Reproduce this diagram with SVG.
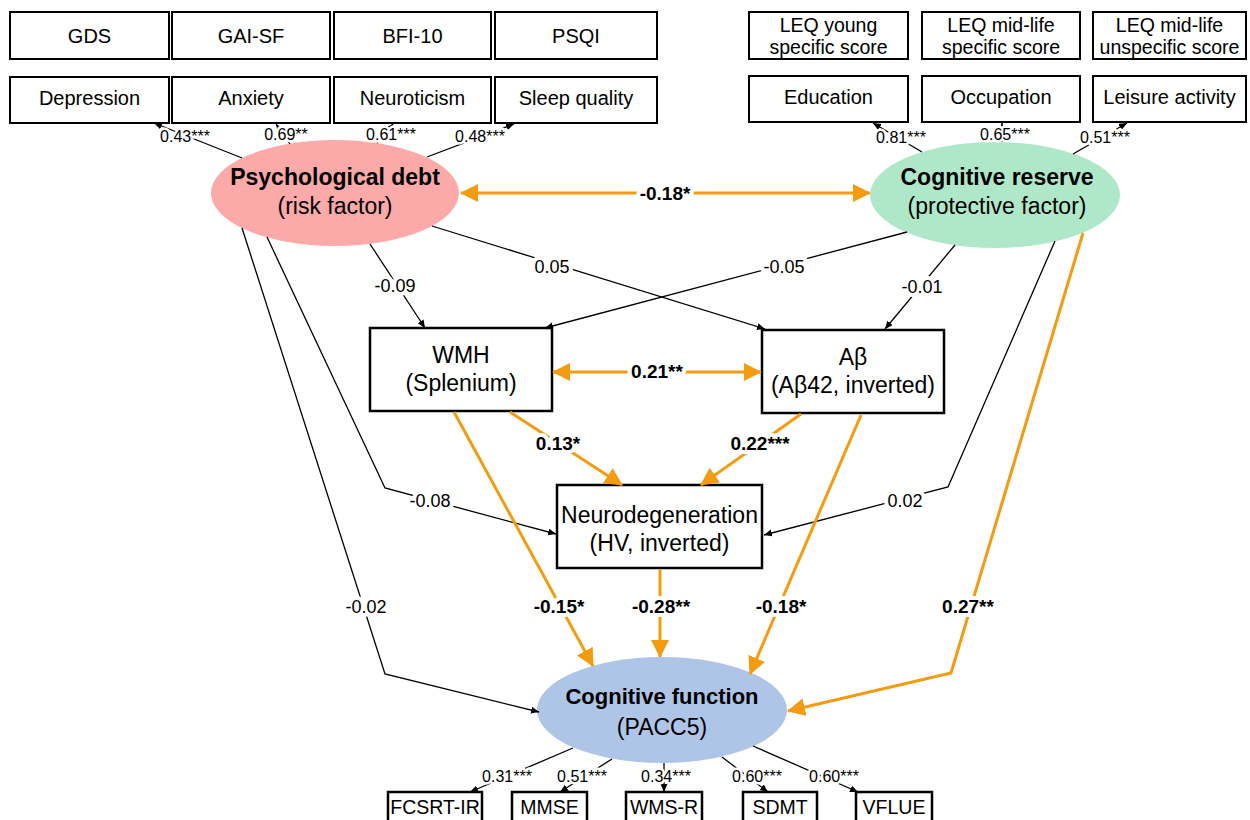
<svg xmlns="http://www.w3.org/2000/svg" width="1250" height="820" viewBox="0 0 1250 820">
<style>
.t{font-family:"Liberation Sans",Arial,sans-serif;text-anchor:middle;fill:#000}
.box{fill:#fff;stroke:#000;stroke-width:2}
.box2{fill:#fff;stroke:#000;stroke-width:2.5}
.bt{font-size:20px}
.bt2{font-size:19.5px}
.mt{font-size:23px}
.et{font-size:23px}
.eb{font-size:23px;font-weight:bold}
.lt{font-size:16px;stroke:#fff;stroke-width:5;paint-order:stroke;stroke-linejoin:round}
.pl{font-size:18px;stroke:#fff;stroke-width:8;paint-order:stroke;stroke-linejoin:round}
.ol{font-size:19px;font-weight:bold;stroke:#fff;stroke-width:8;paint-order:stroke;stroke-linejoin:round}
.blk{fill:none;stroke:#000;stroke-width:1.3;marker-end:url(#ab)}
.org{fill:none;stroke:#F39C12;stroke-width:3;marker-end:url(#ao)}
.bi{marker-start:url(#ao)}
</style>
<defs>
<marker id="ab" markerUnits="userSpaceOnUse" markerWidth="10" markerHeight="8" refX="8" refY="3.5" orient="auto"><path d="M0,0 L8,3.5 L0,7 z" fill="#000"/></marker>
<marker id="ao" markerUnits="userSpaceOnUse" markerWidth="20" markerHeight="20" refX="17" refY="9" orient="auto-start-reverse"><path d="M0,0 L18,9 L0,18 z" fill="#F39C12"/></marker>
</defs>
<rect width="1250" height="820" fill="#fff"/>

<g id="nodes-top-left">
<g id="gds"><rect class="box" x="10" y="12" width="159" height="47"/><text class="t bt" x="89.5" y="43">GDS</text></g>
<g id="gaisf"><rect class="box" x="172" y="12" width="158" height="47"/><text class="t bt" x="251" y="43">GAI-SF</text></g>
<g id="bfi10"><rect class="box" x="334" y="12" width="157" height="47"/><text class="t bt" x="412.5" y="43">BFI-10</text></g>
<g id="psqi"><rect class="box" x="495" y="12" width="162" height="47"/><text class="t bt" x="576" y="43">PSQI</text></g>
<g id="depression"><rect class="box" x="10" y="77" width="159" height="46"/><text class="t bt" x="89.5" y="105">Depression</text></g>
<g id="anxiety"><rect class="box" x="172" y="77" width="158" height="46"/><text class="t bt" x="251" y="105">Anxiety</text></g>
<g id="neuroticism"><rect class="box" x="334" y="77" width="157" height="46"/><text class="t bt" x="412.5" y="105">Neuroticism</text></g>
<g id="sleep"><rect class="box" x="495" y="77" width="162" height="46"/><text class="t bt" x="576" y="105">Sleep quality</text></g>
</g>

<g id="nodes-top-right">
<g id="leq-young"><rect class="box" x="749" y="12" width="159" height="47"/><text class="t bt2" x="828.5" y="32">LEQ young</text><text class="t bt2" x="828.5" y="54">specific score</text></g>
<g id="leq-mid"><rect class="box" x="922" y="12" width="158" height="47"/><text class="t bt2" x="1001" y="32">LEQ mid-life</text><text class="t bt2" x="1001" y="54">specific score</text></g>
<g id="leq-unspec"><rect class="box" x="1093" y="12" width="153" height="47"/><text class="t bt2" x="1169.5" y="32">LEQ mid-life</text><text class="t bt2" x="1169.5" y="54">unspecific score</text></g>
<g id="education"><rect class="box" x="749" y="76" width="159" height="46"/><text class="t bt" x="828.5" y="104">Education</text></g>
<g id="occupation"><rect class="box" x="922" y="76" width="158" height="46"/><text class="t bt" x="1001" y="104">Occupation</text></g>
<g id="leisure"><rect class="box" x="1093" y="76" width="153" height="46"/><text class="t bt" x="1169.5" y="104">Leisure activity</text></g>
</g>

<g id="psych-debt"><ellipse cx="335" cy="193" rx="124" ry="53" fill="#FBA9A9"/><text class="t eb" x="335" y="185">Psychological debt</text><text class="t et" x="335" y="214">(risk factor)</text></g>
<g id="cog-reserve"><ellipse cx="995" cy="195" rx="125" ry="53" fill="#AFE8C8"/><text class="t eb" x="997" y="185">Cognitive reserve</text><text class="t et" x="997" y="214">(protective factor)</text></g>
<g id="wmh"><rect class="box2" x="370" y="328" width="182" height="83"/><text class="t mt" x="461" y="363">WMH</text><text class="t mt" x="461" y="391">(Splenium)</text></g>
<g id="abeta"><rect class="box2" x="762" y="330" width="182" height="83"/><text class="t mt" x="853" y="365">Aβ</text><text class="t mt" x="853" y="393">(Aβ42, inverted)</text></g>
<g id="neurodeg"><rect class="box2" x="557" y="485" width="205" height="83"/><text class="t mt" x="659.5" y="523">Neurodegeneration</text><text class="t mt" x="659.5" y="551">(HV, inverted)</text></g>
<g id="cog-function"><ellipse cx="662" cy="710" rx="125" ry="53" fill="#AFC5E8"/><text class="t eb" x="662" y="704" style="font-size:22px">Cognitive function</text><text class="t et" x="662" y="735">(PACC5)</text></g>

<g id="nodes-bottom">
<g id="fcsrt"><rect class="box2" x="388" y="792" width="94" height="32"/><text class="t bt2" x="435" y="814">FCSRT-IR</text></g>
<g id="mmse"><rect class="box2" x="512" y="792" width="75" height="32"/><text class="t bt2" x="549.5" y="814">MMSE</text></g>
<g id="wmsr"><rect class="box2" x="626" y="792" width="76" height="32"/><text class="t bt2" x="664" y="814">WMS-R</text></g>
<g id="sdmt"><rect class="box2" x="743" y="792" width="74" height="32"/><text class="t bt2" x="780" y="814">SDMT</text></g>
<g id="vflue"><rect class="box2" x="856" y="792" width="76" height="32"/><text class="t bt2" x="894" y="814">VFLUE</text></g>
</g>

<g id="connectors">
<path class="blk" d="M242,158 L154,123"/>
<path class="blk" d="M290,144 L276,124"/>
<path class="blk" d="M377,143 L393,124"/>
<path class="blk" d="M427,157 L514,124"/>
<path class="blk" d="M922,152 L873,123"/>
<path class="blk" d="M1002,142 L1002,123"/>
<path class="blk" d="M1073,154 L1127,123"/>
<path class="blk" d="M573,748 L470,792"/>
<path class="blk" d="M612,759 L560,792"/>
<path class="blk" d="M664,763 L664,792"/>
<path class="blk" d="M722,757 L768,792"/>
<path class="blk" d="M753,746 L858,792"/>

<path class="blk" d="M370,244 L425,328"/>
<path class="blk" d="M432,226 L765,329"/>
<path class="blk" d="M907,232 L545,328"/>
<path class="blk" d="M955,245 L885,329"/>
<path class="blk" d="M267,237 L385,488 L556,534"/>
<path class="blk" d="M242,228 L385,674 L539,712"/>
<path class="blk" d="M1055,241 L948,487 L764,535"/>

<path class="org bi" d="M461,193 L870,193"/>
<path class="org bi" d="M553,372 L761,372"/>
<path class="org" d="M510,412 L622,485"/>
<path class="org" d="M801,414 L701,485"/>
<path class="org" d="M454,412 L593,666"/>
<path class="org" d="M660,569 L660,657"/>
<path class="org" d="M861,415 L750,674"/>
<path class="org" d="M1083,233 L951,673 L788,711"/>
</g>

<g id="labels">
<text class="t lt" x="185" y="142">0.43***</text>
<text class="t lt" x="286" y="140">0.69**</text>
<text class="t lt" x="391" y="140">0.61***</text>
<text class="t lt" x="480" y="142">0.48***</text>
<text class="t lt" x="901" y="143">0.81***</text>
<text class="t lt" x="1005" y="140">0.65***</text>
<text class="t lt" x="1105" y="143">0.51***</text>
<text class="t lt" x="507" y="782">0.31***</text>
<text class="t lt" x="582" y="782">0.51***</text>
<text class="t lt" x="666" y="782">0.34***</text>
<text class="t lt" x="757" y="782">0.60***</text>
<text class="t lt" x="834" y="782">0.60***</text>

<text class="t pl" x="395" y="292">-0.09</text>
<text class="t pl" x="552" y="273">0.05</text>
<text class="t pl" x="784" y="273">-0.05</text>
<text class="t pl" x="922" y="293">-0.01</text>
<text class="t pl" x="430" y="507">-0.08</text>
<text class="t pl" x="905" y="507">0.02</text>
<text class="t pl" x="366" y="613">-0.02</text>

<text class="t ol" x="665" y="200">-0.18*</text>
<text class="t ol" x="657" y="378">0.21**</text>
<text class="t ol" x="558" y="450">0.13*</text>
<text class="t ol" x="760" y="450">0.22***</text>
<text class="t ol" x="559" y="613">-0.15*</text>
<text class="t ol" x="661" y="613">-0.28**</text>
<text class="t ol" x="781" y="613">-0.18*</text>
<text class="t ol" x="968" y="613">0.27**</text>
</g>
</svg>
